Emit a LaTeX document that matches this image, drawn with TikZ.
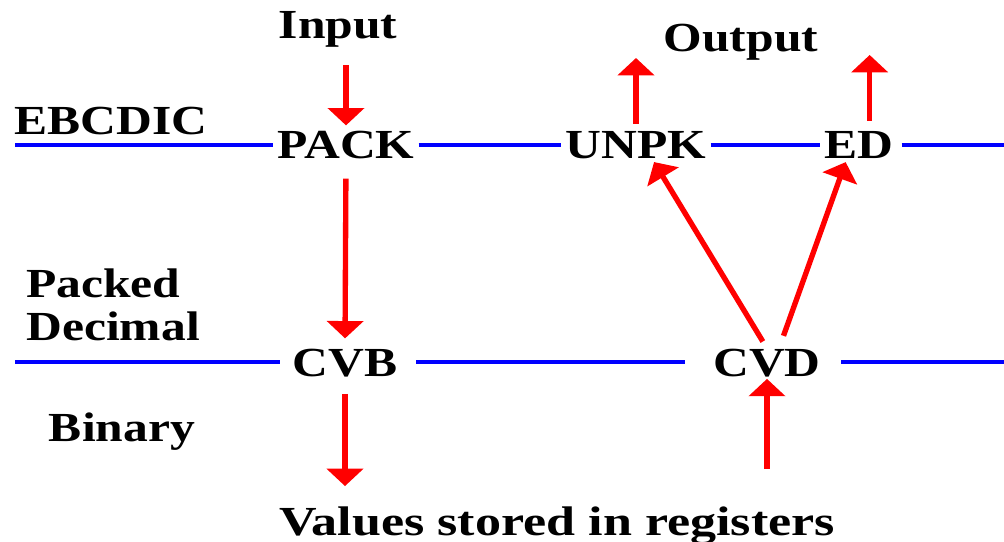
\documentclass[tikz,border=0pt]{standalone}
\usepackage{fontspec}
\setmainfont{Liberation Serif}[FakeStretch=1.2]
\usetikzlibrary{arrows.meta}

\begin{document}
\begin{tikzpicture}[x=0.75pt, y=-0.75pt,
    lbl/.style={font=\bfseries\fontsize{31pt}{32pt}\selectfont, inner xsep=3pt, inner ysep=0pt},
    lane/.style={blue, line width=2.5pt},
    flow/.style={red, line width=4pt, -{Triangle[width=27pt, length=13pt]}}]
  \useasboundingbox (0,0) rectangle (1004,542);

  % 1. labels of the levels
  \node[lbl, anchor=base] (in) at (338,39) {Input};
  \node[lbl, anchor=base] (out) at (741,52) {Output};
  \node[lbl, anchor=base] (ebc) at (111,135) {EBCDIC};
  \node[lbl, anchor=base west, align=left] (pdec) at (22,340) {Packed\\Decimal};
  \node[lbl, anchor=base] (bin) at (122,441) {Binary};
  \node[lbl, anchor=base, xscale=1.05] (val) at (557,535) {Values stored in registers};

  % 2. instructions
  \node[lbl, anchor=base] (pack) at (346,158) {PACK};
  \node[lbl, anchor=base] (unpk) at (636,158) {UNPK};
  \node[lbl, anchor=base] (ed) at (859,158) {ED};
  \node[lbl, anchor=base] (cvb) at (345,376) {CVB};
  \node[lbl, anchor=base] (cvd) at (767,376) {CVD};

  % 3. blue level lines
  \coordinate (e0) at (15,145);
  \coordinate (e1) at (1004,145);
  \coordinate (p0) at (15,362);
  \coordinate (p1) at (1004,362);
  \draw[lane] (e0) -- (e0 -| pack.west);
  \draw[lane] (e0 -| pack.east) -- (e0 -| unpk.west);
  \draw[lane] (e0 -| unpk.east) -- (e0 -| ed.west);
  \draw[lane, shorten <=3pt] (e0 -| ed.east) -- (e1);
  \draw[lane, shorten >=6pt] (p0) -- (p0 -| cvb.west);
  \draw[lane, shorten <=11pt, shorten >=18pt] (p0 -| cvb.east) -- (p0 -| cvd.west);
  \draw[lane, shorten <=12pt] (p0 -| cvd.east) -- (p1);

  % 4. red arrows
  \draw[flow, shorten <=12.75pt, shorten >=3.75pt] (pack.north |- in.south) -- (pack.north);
  \draw[flow, shorten <=15pt, shorten >=7.5pt] (pack.south) -- (cvb.north);
  \draw[flow, shorten <=12.75pt, shorten >=15pt] (cvb.south) -- (cvb.south |- val.north);
  \draw[flow, shorten <=27.75pt, shorten >=1.5pt] (cvd.south |- val.north) -- (cvd.south);
  \draw[flow, shorten <=5.25pt, shorten >=4.5pt] (unpk.north) -- (unpk.north |- out.base);
  \draw[flow, shorten <=7.5pt, shorten >=2.25pt] ([xshift=8pt]ed.north) -- ([xshift=8pt]ed.north |- out.base);
  \draw[flow, shorten <=6pt, shorten >=3pt] (cvd.north) -- ([xshift=12pt]unpk.south);
  \draw[flow, shorten <=10pt, shorten >=3pt] ([xshift=9pt]cvd.north) -- ([xshift=-9pt]ed.south);
\end{tikzpicture}
\end{document}
